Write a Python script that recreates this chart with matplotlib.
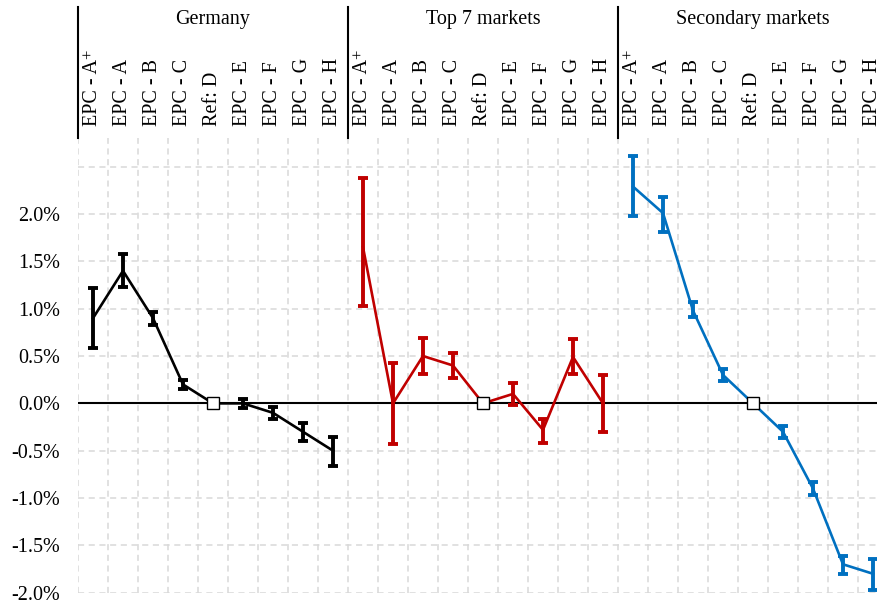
import numpy as np
import matplotlib
matplotlib.use("Agg")
import matplotlib.pyplot as plt
from matplotlib.ticker import FixedLocator, FuncFormatter

plt.rcParams['font.family'] = ['Liberation Serif', 'DejaVu Serif']

groups = ['Germany', 'Top 7 markets', 'Secondary markets']
categories = ['EPC - A', 'EPC - A', 'EPC - B', 'EPC - C', 'Ref: D',
              'EPC - E', 'EPC - F', 'EPC - G', 'EPC - H']
superscripts = ['+', '', '', '', '', '', '', '', '']
ref_index = 4
colors = ['#000000', '#C00000', '#0070C0']

# estimates (%), lower and upper bound of the interval
germany = [0.90, 1.40, 0.90, 0.20, 0.0, 0.00, -0.10, -0.30, -0.50]
germany_lo = [0.59, 1.23, 0.83, 0.15, 0.0, -0.05, -0.17, -0.40, -0.66]
germany_hi = [1.22, 1.58, 0.97, 0.25, 0.0, 0.05, -0.04, -0.21, -0.35]

top7 = [1.65, 0.00, 0.50, 0.40, 0.0, 0.10, -0.28, 0.49, 0.00]
top7_lo = [1.03, -0.43, 0.31, 0.27, 0.0, -0.02, -0.42, 0.31, -0.30]
top7_hi = [2.38, 0.43, 0.69, 0.53, 0.0, 0.21, -0.17, 0.68, 0.30]

secondary = [2.29, 2.01, 0.98, 0.30, 0.0, -0.30, -0.90, -1.70, -1.80]
secondary_lo = [1.98, 1.81, 0.91, 0.24, 0.0, -0.37, -0.97, -1.80, -1.97]
secondary_hi = [2.61, 2.18, 1.07, 0.36, 0.0, -0.24, -0.83, -1.61, -1.64]

series = [(germany, germany_lo, germany_hi),
          (top7, top7_lo, top7_hi),
          (secondary, secondary_lo, secondary_hi)]

yticks = [-2.0, -1.5, -1.0, -0.5, 0.0, 0.5, 1.0, 1.5, 2.0, 2.5]

fig = plt.figure(figsize=(8.78, 6.05), dpi=100)
W, H = 878, 605
top_px, bot_px = 138.3, 592.7
ax = fig.add_axes([78 / W, (H - bot_px) / H, 810 / W, (bot_px - top_px) / H])

n = len(categories)
for g, (vals, lo, hi) in enumerate(series):
    x = np.arange(n) + g * n
    vals = np.array(vals)
    lo = np.array(lo)
    hi = np.array(hi)
    c = colors[g]
    ax.plot(x, vals, color=c, lw=1.9, zorder=3)
    m = np.arange(n) != ref_index
    ax.errorbar(x[m], vals[m], yerr=[vals[m] - lo[m], hi[m] - vals[m]],
                fmt='none', ecolor=c, elinewidth=2.8, capsize=3.3,
                capthick=2.8, zorder=4)
    ax.plot(x[ref_index], vals[ref_index], marker='s', ms=8.5,
            mfc='white', mec='black', mew=1.0, ls='none', zorder=5)

ax.axhline(0, color='black', lw=1.5, zorder=2)

ax.set_xlim(-0.5, 3 * n - 0.5)
ax.set_ylim(-2.0, 2.8)
ax.set_xticks([])
ax.xaxis.set_minor_locator(FixedLocator(np.arange(3 * n + 1) - 0.5))
ax.set_yticks(yticks)
ax.yaxis.set_major_formatter(FuncFormatter(
    lambda v, p: '' if v > 2.2 else f"{v + 0:.1f}%".replace('-0.0', '0.0')))
ax.tick_params(axis='y', length=0, pad=13, labelsize=14.5)
ax.tick_params(axis='x', which='both', length=0)
ax.grid(True, axis='y', which='major', color='#d9d9d9', ls=(0, (4, 3)), lw=1.1)
ax.grid(True, axis='x', which='minor', color='#d9d9d9', ls=(0, (4, 3)), lw=1.1)
for s in ax.spines.values():
    s.set_visible(False)

# header with group titles and rotated category labels
trans = ax.get_xaxis_transform()
ax_h = bot_px - top_px
y_sep_top = (bot_px - 7) / ax_h
y_title = (bot_px - 19) / ax_h
y_lab = (bot_px - 126) / ax_h
for g, name in enumerate(groups):
    ax.plot([g * n - 0.5, g * n - 0.5], [1.0, y_sep_top], color='black',
            lw=1.5, transform=trans, clip_on=False)
    ax.text(g * n + (n - 1) / 2, y_title, name, transform=trans,
            ha='center', va='center', fontsize=14.5)
    for i, lab in enumerate(categories):
        t = ax.text(g * n + i, y_lab, lab, transform=trans, rotation=90,
                    ha='center', va='bottom', fontsize=14.5)
        if superscripts[i]:
            ax.annotate(superscripts[i], xy=(0.3, 1.0), xycoords=t,
                        rotation=90, ha='center', va='bottom', fontsize=12)

fig.savefig('out.png', dpi=100)
